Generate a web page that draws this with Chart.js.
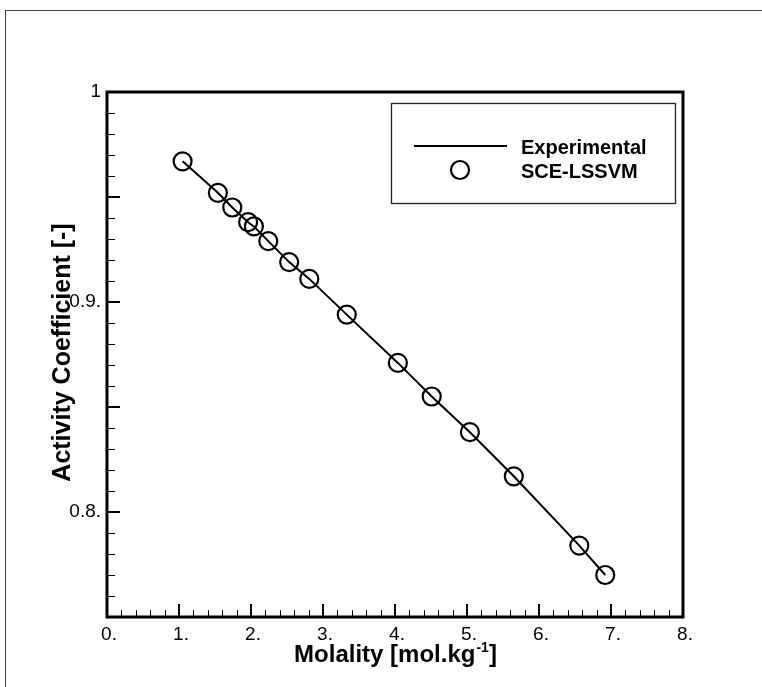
<!DOCTYPE html>
<html lang="en">
<head>
<meta charset="UTF-8">
<title>Activity Coefficient vs Molality</title>
<script src="https://cdn.jsdelivr.net/npm/chart.js"></script>
<style>
  html, body { margin: 0; padding: 0; background: #fff; }
  body { width: 762px; height: 687px; position: relative; overflow: hidden; font-family: 'Liberation Sans', Arial, sans-serif; }
  #frame { position: absolute; left: 5px; top: 10px; right: -4px; bottom: -4px; border-top: 1px solid #444; border-left: 1px solid #444; }
  #chart-box { position: absolute; left: 0; top: 0; width: 762px; height: 687px; }
</style>
</head>
<body>
<div id="frame"></div>
<div id="chart-box"><canvas id="coefChart" width="762" height="687"></canvas></div>

<script>
// values
const molality = [1.05, 1.54, 1.74, 1.96, 2.04, 2.24, 2.53, 2.81, 3.33, 4.04, 4.51, 5.04, 5.65, 6.56, 6.92];
const experimental = [0.967, 0.952, 0.945, 0.938, 0.936, 0.929, 0.919, 0.911, 0.894, 0.871, 0.855, 0.838, 0.817, 0.784, 0.770];
const sceLssvm = [0.967, 0.952, 0.945, 0.938, 0.936, 0.929, 0.919, 0.911, 0.894, 0.871, 0.855, 0.838, 0.817, 0.784, 0.770];

const xTickValues = [0, 1, 2, 3, 4, 5, 6, 7, 8];
const xTickLabels = ['0.', '1.', '2.', '3.', '4.', '5.', '6.', '7.', '8.'];
const yTickValues = [0.8, 0.9, 1];
const yTickLabels = ['0.8.', '0.9.', '1'];

const FONT = "'Liberation Sans', Arial, sans-serif";

// frame of the plot plus inward major / minor tick marks
const frameTicks = {
  id: 'frameTicks',
  afterDraw(chart) {
    const c = chart.ctx, a = chart.chartArea;
    const xs = chart.scales.x, ys = chart.scales.y;
    c.save();
    c.strokeStyle = '#000';
    // minor x ticks every 0.2
    c.lineWidth = 1;
    for (let i = 0; i <= 40; i++) {
      if (i % 5 === 0) continue;
      const px = Math.round(xs.getPixelForValue(i * 0.2)) + 0.5;
      c.beginPath(); c.moveTo(px, a.bottom); c.lineTo(px, a.bottom - 7); c.stroke();
    }
    // minor y ticks every 0.01
    for (let i = 75; i <= 100; i++) {
      if (i % 5 === 0) continue;
      const py = Math.round(ys.getPixelForValue(i / 100)) + 0.5;
      c.beginPath(); c.moveTo(a.left, py); c.lineTo(a.left + 8, py); c.stroke();
    }
    // major ticks
    c.lineWidth = 2;
    xTickValues.forEach(v => {
      const px = Math.round(xs.getPixelForValue(v));
      c.beginPath(); c.moveTo(px, a.bottom); c.lineTo(px, a.bottom - 13); c.stroke();
    });
    for (let i = 75; i <= 100; i += 5) {
      const py = Math.round(ys.getPixelForValue(i / 100));
      c.beginPath(); c.moveTo(a.left, py); c.lineTo(a.left + 13, py); c.stroke();
    }
    c.lineWidth = 3;
    c.strokeRect(a.left, a.top, a.right - a.left, a.bottom - a.top);
    c.restore();
  }
};

// axis titles (x title needs a superscript)
const axisTitles = {
  id: 'axisTitles',
  afterDraw(chart) {
    const c = chart.ctx, a = chart.chartArea;
    c.save();
    c.fillStyle = '#000';
    c.textBaseline = 'alphabetic';
    const main = 'Molality [mol.kg', sup = '-1', end = ']';
    c.font = 'bold 24px ' + FONT;
    const w1 = c.measureText(main).width, w3 = c.measureText(end).width;
    c.font = 'bold 14px ' + FONT;
    const w2 = c.measureText(sup).width;
    let x0 = (a.left + a.right) / 2 - (w1 + w2 + w3) / 2;
    const base = 662;
    c.textAlign = 'left';
    c.font = 'bold 24px ' + FONT;
    c.fillText(main, x0, base);
    c.font = 'bold 14px ' + FONT;
    c.fillText(sup, x0 + w1 + 1, base - 10);
    c.font = 'bold 24px ' + FONT;
    c.fillText(end, x0 + w1 + w2 + 1, base);

    c.translate(70, (a.top + a.bottom) / 2 - 2);
    c.rotate(-Math.PI / 2);
    c.textAlign = 'center';
    c.font = 'bold 25px ' + FONT;
    c.fillText('Activity Coefficient [-]', 0, 0);
    c.restore();
  }
};

// boxed legend inside the plot
const boxLegend = {
  id: 'boxLegend',
  afterDraw(chart) {
    const c = chart.ctx;
    c.save();
    c.strokeStyle = '#222';
    c.lineWidth = 1.3;
    c.strokeRect(391.5, 103.5, 284, 100);
    c.strokeStyle = '#000';
    c.lineWidth = 2;
    c.beginPath(); c.moveTo(414, 146); c.lineTo(507, 146); c.stroke();
    c.lineWidth = 2.2;
    c.beginPath(); c.arc(460, 170, 9, 0, Math.PI * 2); c.stroke();
    c.fillStyle = '#000';
    c.font = 'bold 20px ' + FONT;
    c.textAlign = 'left';
    c.textBaseline = 'alphabetic';
    c.fillText(chart.data.datasets[0].label, 521, 154);
    c.fillText(chart.data.datasets[1].label, 521, 178);
    c.restore();
  }
};

const ctx = document.getElementById('coefChart').getContext('2d');
const chart = new Chart(ctx, {
  type: 'scatter',
  data: {
    datasets: [{
      label: 'Experimental',
      data: molality.map((m, i) => ({ x: m, y: experimental[i] })),
      showLine: true,
      borderColor: '#000',
      borderWidth: 2,
      pointRadius: 0,
      pointHoverRadius: 0,
      order: 0
    }, {
      label: 'SCE-LSSVM',
      data: molality.map((m, i) => ({ x: m, y: sceLssvm[i] })),
      showLine: false,
      pointStyle: 'circle',
      pointRadius: 9,
      pointHoverRadius: 9,
      pointBorderWidth: 2.2,
      borderColor: '#000',
      backgroundColor: 'rgba(0,0,0,0)',
      order: 1
    }]
  },
  options: {
    responsive: false,
    animation: false,
    devicePixelRatio: 1,
    layout: { padding: { left: 0, top: 92, right: 79, bottom: 0 } },
    plugins: { legend: { display: false }, tooltip: { enabled: false } },
    scales: {
      x: {
        type: 'linear', min: 0, max: 8,
        grid: { display: false, drawTicks: false },
        border: { display: false },
        ticks: {
          stepSize: 1, autoSkip: false, maxRotation: 0, padding: 6, labelOffset: 2,
          color: '#000', font: { family: FONT, size: 19 },
          callback: v => { const k = xTickValues.indexOf(v); return k >= 0 ? xTickLabels[k] : ''; }
        },
        afterFit: s => { s.height = 70; }
      },
      y: {
        type: 'linear', min: 0.75, max: 1,
        grid: { display: false, drawTicks: false },
        border: { display: false },
        ticks: {
          stepSize: 0.05, autoSkip: false, padding: 6,
          color: '#000', font: { family: FONT, size: 19 },
          callback: v => { const k = yTickValues.findIndex(t => Math.abs(t - v) < 1e-6); return k >= 0 ? yTickLabels[k] : ''; }
        },
        afterFit: s => { s.width = 107; }
      }
    }
  },
  plugins: [frameTicks, axisTitles, boxLegend]
});
</script>
</body>
</html>
